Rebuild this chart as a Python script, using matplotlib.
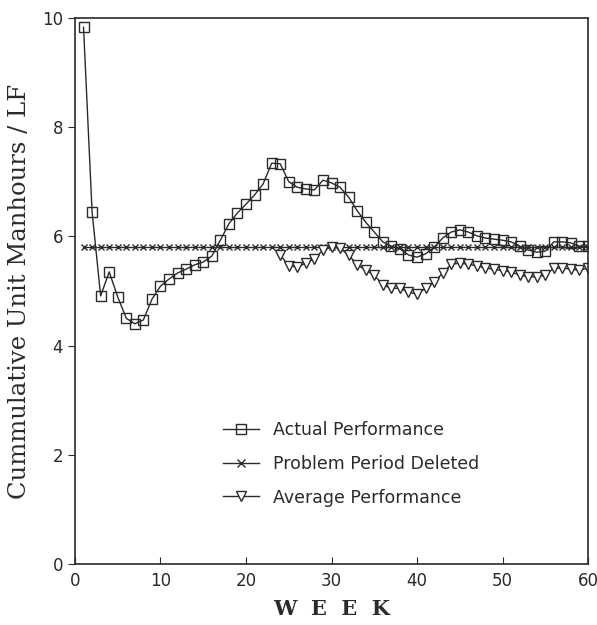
import matplotlib
matplotlib.use("Agg")
import matplotlib.pyplot as plt
from matplotlib.lines import Line2D

weeks_actual = list(range(1, 61))
actual = [9.83, 6.45, 4.91, 5.35, 4.89, 4.50, 4.40, 4.47, 4.85, 5.09,
          5.22, 5.33, 5.40, 5.48, 5.53, 5.64, 5.93, 6.23, 6.43, 6.59,
          6.76, 6.96, 7.34, 7.33, 7.00, 6.90, 6.87, 6.85, 7.03, 6.98,
          6.90, 6.72, 6.47, 6.26, 6.08, 5.90, 5.82, 5.77, 5.66, 5.62,
          5.68, 5.80, 5.97, 6.08, 6.12, 6.08, 6.01, 5.97, 5.95, 5.93,
          5.90, 5.82, 5.75, 5.71, 5.73, 5.90, 5.90, 5.88, 5.82, 5.82]

weeks_deleted = list(range(1, 61))
deleted = [5.8] * 60

weeks_avg = list(range(24, 61))
average = [5.66, 5.46, 5.44, 5.51, 5.59, 5.75, 5.80, 5.78, 5.66, 5.48,
           5.38, 5.29, 5.11, 5.05, 5.05, 4.98, 4.94, 5.05, 5.16, 5.33,
           5.49, 5.51, 5.49, 5.46, 5.42, 5.40, 5.37, 5.35, 5.29, 5.26,
           5.26, 5.29, 5.42, 5.42, 5.40, 5.38, 5.42]

x_ticks = [0, 10, 20, 30, 40, 50, 60]
y_ticks = [0, 2, 4, 6, 8, 10]

fig = plt.figure(figsize=(5.97, 6.25), dpi=100)
ax = fig.add_axes([0.1256, 0.0976, 0.8594, 0.8736])

c = "#2a2a2a"
ax.plot(weeks_deleted, deleted, color=c, lw=1.0, marker="x", ms=5, mew=1.0)
ax.plot(weeks_avg, average, color=c, lw=1.0, marker="v", ms=6.5, mfc="white", mew=1.0)
ax.plot(weeks_actual, actual, color=c, lw=1.0, marker="s", ms=7, mfc="none", mew=1.0)

ax.set_xlim(0, 60)
ax.set_ylim(0, 10)
ax.set_xticks(x_ticks)
ax.set_yticks(y_ticks)
ax.tick_params(axis="x", direction="in", length=5, labelsize=12, pad=6, colors=c)
ax.tick_params(axis="y", direction="out", length=5, labelsize=12, colors=c)
for s in ax.spines.values():
    s.set_color(c)
    s.set_linewidth(1.2)

ax.set_ylabel("Cummulative Unit Manhours / LF", family="DejaVu Serif",
              fontsize=17.5, color=c, labelpad=8)
ax.set_xlabel("W  E  E  K", family="DejaVu Serif", fontweight="bold",
              fontsize=15, color=c, labelpad=6)

handles = [
    Line2D([], [], color=c, lw=1.0, marker="s", ms=7, mfc="none"),
    Line2D([], [], color=c, lw=1.0, marker="x", ms=6),
    Line2D([], [], color=c, lw=1.0, marker="v", ms=6.5, mfc="white"),
]
labels = ["Actual Performance", "Problem Period Deleted", "Average Performance"]
ax.legend(handles, labels, loc="upper left", bbox_to_anchor=(0.258, 0.29),
          frameon=False, fontsize=12.5, handlelength=2.1, labelspacing=0.9,
          handletextpad=0.8, labelcolor=c)

fig.savefig("out.png", dpi=100)
